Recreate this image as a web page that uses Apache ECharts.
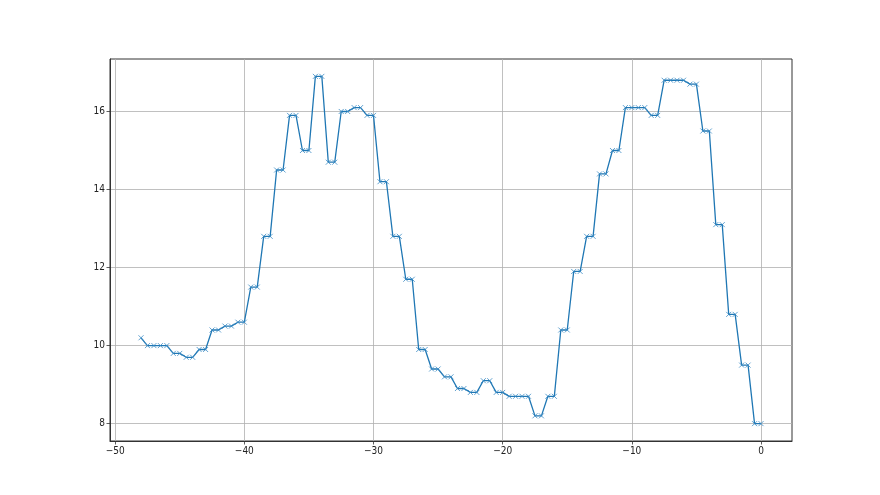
<!DOCTYPE html>
<html>
<head>
<meta charset="utf-8">
<script src="https://cdn.jsdelivr.net/npm/echarts@6/dist/echarts.min.js"></script>
<style>
html,body{margin:0;padding:0;background:#fff;}
#chart{width:880px;height:495px;}
</style>
</head>
<body>
<div id="chart"></div>
<script>
var xValues = [-48,
  -47.5, -47, -46.5, -46, -45.5, -45, -44.5, -44, -43.5, -43,
  -42.5, -42, -41.5, -41, -40.5, -40, -39.5, -39, -38.5, -38,
  -37.5, -37, -36.5, -36, -35.5, -35, -34.5, -34, -33.5, -33,
  -32.5, -32, -31.5, -31, -30.5, -30, -29.5, -29, -28.5, -28,
  -27.5, -27, -26.5, -26, -25.5, -25, -24.5, -24, -23.5, -23,
  -22.5, -22, -21.5, -21, -20.5, -20, -19.5, -19, -18.5, -18,
  -17.5, -17, -16.5, -16, -15.5, -15, -14.5, -14, -13.5, -13,
  -12.5, -12, -11.5, -11, -10.5, -10, -9.5, -9, -8.5, -8,
  -7.5, -7, -6.5, -6, -5.5, -5, -4.5, -4, -3.5, -3,
  -2.5, -2, -1.5, -1, -0.5, 0];
var yValues = [10.2,
  10.0, 10.0, 10.0, 10.0, 9.8, 9.8, 9.7, 9.7, 9.9, 9.9,
  10.4, 10.4, 10.5, 10.5, 10.6, 10.6, 11.5, 11.5, 12.8, 12.8,
  14.5, 14.5, 15.9, 15.9, 15.0, 15.0, 16.9, 16.9, 14.7, 14.7,
  16.0, 16.0, 16.1, 16.1, 15.9, 15.9, 14.2, 14.2, 12.8, 12.8,
  11.7, 11.7, 9.9, 9.9, 9.4, 9.4, 9.2, 9.2, 8.9, 8.9,
  8.8, 8.8, 9.1, 9.1, 8.8, 8.8, 8.7, 8.7, 8.7, 8.7,
  8.2, 8.2, 8.7, 8.7, 10.4, 10.4, 11.9, 11.9, 12.8, 12.8,
  14.4, 14.4, 15.0, 15.0, 16.1, 16.1, 16.1, 16.1, 15.9, 15.9,
  16.8, 16.8, 16.8, 16.8, 16.7, 16.7, 15.5, 15.5, 13.1, 13.1,
  10.8, 10.8, 9.5, 9.5, 8.0, 8.0];
var xTicks = [-50, -40, -30, -20, -10, 0];
var yTicks = [8, 10, 12, 14, 16];

var pairs = xValues.map(function (x, i) { return [x, yValues[i]]; });
var xMin = Math.min.apply(null, xValues), xMax = Math.max.apply(null, xValues);
var yMin = Math.min.apply(null, yValues), yMax = Math.max.apply(null, yValues);
var xPad = (xMax - xMin) * 0.05, yPad = (yMax - yMin) * 0.05;

var fontFam = '"DejaVu Sans Condensed", "DejaVu Sans", sans-serif';
var chart = echarts.init(document.getElementById('chart'), null, {renderer: 'canvas'});
chart.setOption({
  animation: false,
  backgroundColor: '#ffffff',
  grid: {left: 110, right: 88, top: 59, bottom: 54, containLabel: false,
         show: true, borderColor: '#333333', borderWidth: 1, backgroundColor: 'transparent'},
  xAxis: {
    type: 'value', min: xMin - xPad, max: xMax + xPad,
    axisLine: {show: true, onZero: false, lineStyle: {color: '#333333', width: 1}},
    axisTick: {show: true, length: 3.5, inside: false, customValues: xTicks, lineStyle: {color: '#333333', width: 0.8}},
    axisLabel: {show: true, customValues: xTicks, margin: 5, fontSize: 10, color: '#222222', fontFamily: fontFam,
                formatter: function (v) { return v < 0 ? '\u2212' + Math.abs(v) : String(v); }},
    splitLine: {show: true, lineStyle: {color: '#b0b0b0', width: 0.8}}
  },
  yAxis: {
    type: 'value', min: yMin - yPad, max: yMax + yPad,
    axisLine: {show: true, onZero: false, lineStyle: {color: '#333333', width: 1}},
    axisTick: {show: true, length: 3.5, inside: false, customValues: yTicks, lineStyle: {color: '#333333', width: 0.8}},
    axisLabel: {show: true, customValues: yTicks, margin: 5, fontSize: 10, color: '#222222', fontFamily: fontFam},
    splitLine: {show: true, lineStyle: {color: '#b0b0b0', width: 0.8}}
  },
  series: [{
    type: 'line',
    data: pairs,
    symbol: 'path://M0,0L10,10M10,0L0,10',
    symbolSize: 5,
    showAllSymbol: true,
    lineStyle: {color: '#1f77b4', width: 1.3},
    itemStyle: {color: '#1f77b4', borderColor: '#3a8ac4', borderWidth: 0.8},
    emphasis: {disabled: true}
  }]
});
</script>
</body>
</html>
